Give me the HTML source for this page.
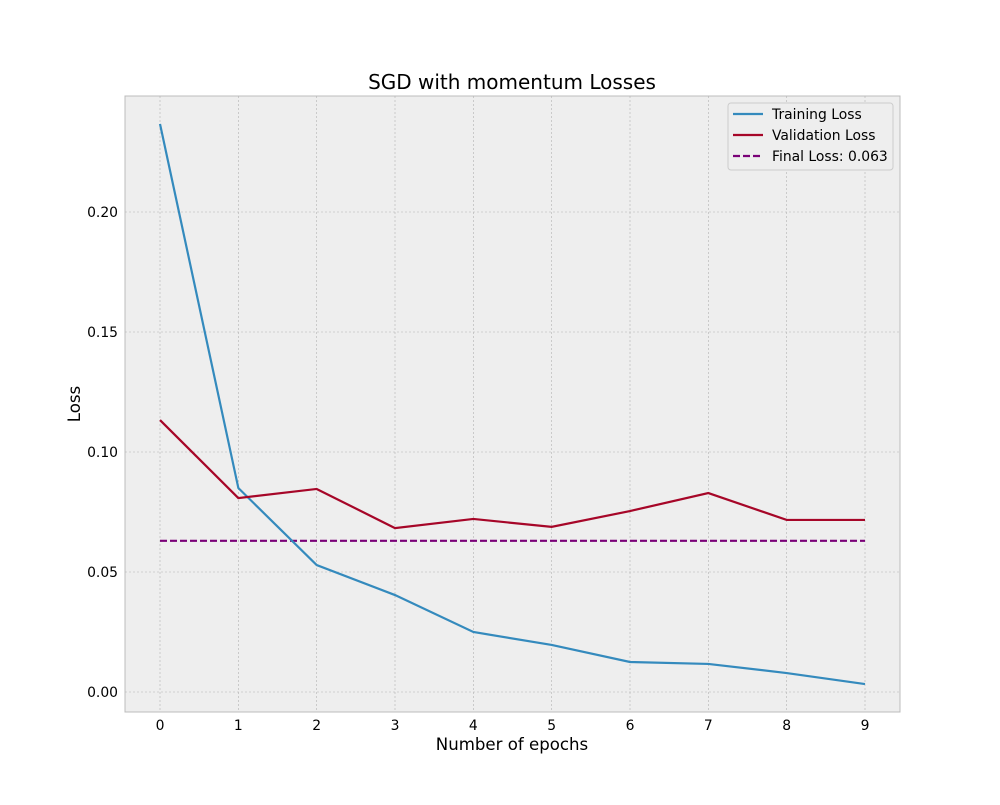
<!DOCTYPE html>
<html><head><meta charset="utf-8"><style>
body{margin:0;background:#fff;}
svg{font-family:"DejaVu Sans","Liberation Sans",sans-serif;}
</style></head><body>
<svg id="chart" width="1000" height="800" xmlns="http://www.w3.org/2000/svg">
<rect width="1000" height="800" fill="#fff"/>
<text x="512" y="89" font-size="20" text-anchor="middle">SGD with momentum Losses</text>
<rect x="125" y="96" width="775" height="616" fill="#eeeeee" stroke="#bcbcbc"/>
<g id="grid"></g><g id="ticks"></g><g id="series"></g>
<text x="512" y="750" font-size="16.6" text-anchor="middle">Number of epochs</text>
<text transform="translate(80,404) rotate(-90)" font-size="16.6" text-anchor="middle">Loss</text>
<g>
<rect x="728" y="103" width="165" height="67" fill="#eeeeee" stroke="#ccc" rx="3"/>
<g><line x1="733" y1="114" x2="763" y2="114" stroke="#348abd" stroke-width="2.2"/><text x="772" y="119" font-size="13.9">Training Loss</text></g>
<g><line x1="733" y1="135" x2="763" y2="135" stroke="#a60628" stroke-width="2.2"/><text x="772" y="140" font-size="13.9">Validation Loss</text></g>
<g><line x1="733" y1="156" x2="763" y2="156" stroke="#7a0177" stroke-width="2.2" stroke-dasharray="7,3"/><text x="772" y="161" font-size="13.9">Final Loss: 0.063</text></g>
</g>
</svg>
<script>
const epochs=[0,1,2,3,4,5,6,7,8,9];
const trainLoss=[0.2367,0.085,0.0529,0.0404,0.025,0.0196,0.0125,0.0117,0.0079,0.0033];
const valLoss=[0.1133,0.0808,0.0846,0.0683,0.0721,0.0688,0.0754,0.0829,0.0717,0.0717];
const finalLoss=0.063;
const yTicks=[0,0.05,0.10,0.15,0.20];
const yTickLabels=["0.00","0.05","0.10","0.15","0.20"];
const xTicks=[0,1,2,3,4,5,6,7,8,9];
const NS="http://www.w3.org/2000/svg";
const xs=v=>160+v*(705/9);
const ys=v=>692-v*2400;
function mk(tag,attrs,parent){const e=document.createElementNS(NS,tag);for(const k in attrs)e.setAttribute(k,attrs[k]);parent.appendChild(e);return e;}
const grid=document.getElementById('grid'),ticks=document.getElementById('ticks'),ser=document.getElementById('series');
xTicks.forEach(t=>{
 const g=mk('line',{x1:xs(t),x2:xs(t),y1:96,y2:712,stroke:'#b2b2b2','stroke-width':0.6,'stroke-dasharray':'2,2'},grid);
 
 const l=mk('text',{x:xs(t),y:730,'font-size':13.9,'text-anchor':'middle'},ticks);l.textContent=t;
 
});
yTicks.forEach((t,i)=>{
 const g=mk('line',{x1:125,x2:900,y1:ys(t),y2:ys(t),stroke:'#b2b2b2','stroke-width':0.6,'stroke-dasharray':'2,2'},grid);
 
 const l=mk('text',{x:118,y:ys(t)+5,'font-size':13.9,'text-anchor':'end'},ticks);l.textContent=yTickLabels[i];
 
});
const fl=mk('line',{x1:xs(epochs[0]),x2:xs(epochs[epochs.length-1]),y1:ys(finalLoss),y2:ys(finalLoss),stroke:'#7a0177','stroke-width':2.2,'stroke-dasharray':'7,3'},ser);

const tp=mk('polyline',{points:epochs.map((e,i)=>xs(e)+','+ys(trainLoss[i])).join(' '),fill:'none',stroke:'#348abd','stroke-width':2.2},ser);

const vp=mk('polyline',{points:epochs.map((e,i)=>xs(e)+','+ys(valLoss[i])).join(' '),fill:'none',stroke:'#a60628','stroke-width':2.2},ser);

</script>
</body></html>
